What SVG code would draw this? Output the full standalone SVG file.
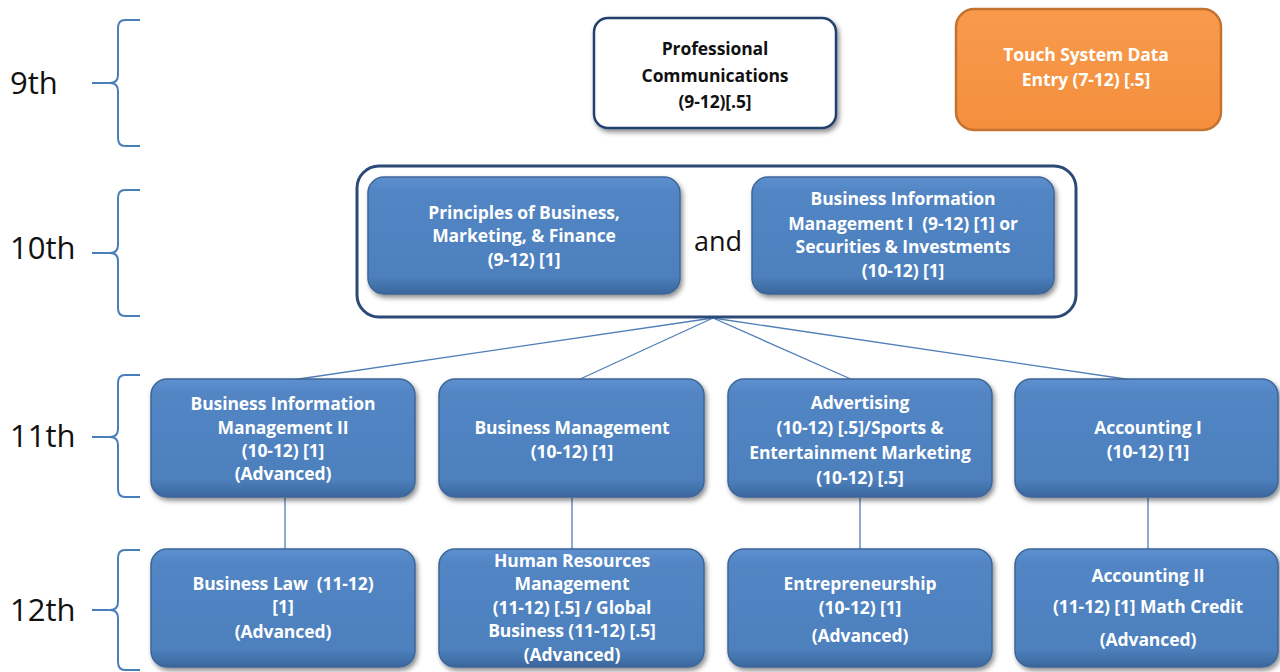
<svg xmlns="http://www.w3.org/2000/svg" width="1280" height="672" viewBox="0 0 1280 672">
<defs>
<linearGradient id="blueG" x1="0" y1="0" x2="0" y2="1">
<stop offset="0" stop-color="#5e90cf"/>
<stop offset="0.12" stop-color="#5285c4"/>
<stop offset="0.85" stop-color="#4d80bd"/>
<stop offset="1" stop-color="#3b669c"/>
</linearGradient>
<linearGradient id="orangeG" x1="0" y1="0" x2="0" y2="1">
<stop offset="0" stop-color="#f89a4c"/>
<stop offset="1" stop-color="#f48f3d"/>
</linearGradient>
<filter id="sh" x="-10%" y="-10%" width="125%" height="130%">
<feDropShadow dx="2" dy="3" stdDeviation="2.5" flood-color="#000" flood-opacity="0.45"/>
</filter>
</defs>
<style>
.blue{fill:url(#blueG);stroke:#3d6698;stroke-width:1.5;filter:url(#sh)}
.t{font-family:"Open Sans",Lato,"Liberation Sans",sans-serif;font-weight:bold;font-size:17.5px;letter-spacing:-0.1px;fill:#fff;text-anchor:middle;white-space:pre}
.k{fill:#111}
.lbl{font-family:"Open Sans","Liberation Sans",sans-serif;font-size:31px;fill:#111}
.brace{fill:none;stroke:#4a7ebb;stroke-width:2}
.conn{stroke:#4f7fb8;stroke-width:1.3;fill:none}
</style>
<rect width="1280" height="672" fill="#fff"/>

<g id="labels">
<text class="lbl" x="10" y="94">9th</text>
<text class="lbl" x="10" y="259">10th</text>
<text class="lbl" x="10" y="447">11th</text>
<text class="lbl" x="10" y="621">12th</text>
</g>

<g id="braces">
<path class="brace" d="M140,20 H125 Q118,20 118,28 V75 Q118,83 110,83 H92 M110,83 Q118,83 118,91 V138 Q118,146 125,146 H140"/>
<path class="brace" d="M140,190 H125 Q118,190 118,198 V245 Q118,253 110,253 H92 M110,253 Q118,253 118,261 V308 Q118,316 125,316 H140"/>
<path class="brace" d="M140,375 H125 Q118,375 118,383 V429 Q118,437 110,437 H92 M110,437 Q118,437 118,445 V489 Q118,497 125,497 H140"/>
<path class="brace" d="M140,550 H125 Q118,550 118,558 V602 Q118,610 110,610 H92 M110,610 Q118,610 118,618 V662 Q118,670 125,670 H140"/>
</g>

<g id="connectors">
<line class="conn" x1="713" y1="318" x2="292" y2="380"/>
<line class="conn" x1="713" y1="318" x2="578" y2="380"/>
<line class="conn" x1="713" y1="318" x2="853" y2="380"/>
<line class="conn" x1="713" y1="318" x2="1132" y2="380"/>
<line class="conn" x1="285" y1="498" x2="285" y2="550"/>
<line class="conn" x1="572" y1="498" x2="572" y2="550"/>
<line class="conn" x1="860" y1="498" x2="860" y2="550"/>
<line class="conn" x1="1148" y1="498" x2="1148" y2="550"/>
</g>

<g id="prof-comm">
<rect x="594" y="18" width="242" height="110" rx="14" fill="#fff" stroke="#24406e" stroke-width="2.5" filter="url(#sh)"/>
<text class="t k" x="715" y="55">Professional</text>
<text class="t k" x="715" y="82">Communications</text>
<text class="t k" x="715" y="108">(9-12)[.5]</text>
</g>

<g id="touch-system">
<rect x="956" y="9" width="265" height="121" rx="18" fill="url(#orangeG)" stroke="#c3732f" stroke-width="2.5"/>
<text class="t" x="1086" y="61">Touch System Data</text>
<text class="t" x="1086" y="86">Entry (7-12) [.5]</text>
</g>

<g id="tenth-group">
<rect x="357" y="166" width="719" height="151" rx="22" fill="#fff" stroke="#2c4a78" stroke-width="3"/>
<text x="718" y="251" font-family="'Open Sans','Liberation Sans',sans-serif" font-size="27" fill="#111" text-anchor="middle">and</text>
</g>

<g id="principles">
<rect class="blue" x="368" y="177" width="312" height="117" rx="16"/>
<text class="t" x="524" y="219">Principles of Business,</text>
<text class="t" x="524" y="242">Marketing, &amp; Finance</text>
<text class="t" x="524" y="266">(9-12) [1]</text>
</g>

<g id="bim1">
<rect class="blue" x="752" y="177" width="302" height="117" rx="16"/>
<text class="t" x="903" y="205">Business Information</text>
<text class="t" x="903" y="230">Management I  (9-12) [1] or</text>
<text class="t" x="903" y="253">Securities &amp; Investments</text>
<text class="t" x="903" y="277">(10-12) [1]</text>
</g>

<g id="bim2">
<rect class="blue" x="151" y="379" width="264" height="118" rx="16"/>
<text class="t" x="283" y="410">Business Information</text>
<text class="t" x="283" y="434">Management II</text>
<text class="t" x="283" y="457">(10-12) [1]</text>
<text class="t" x="283" y="480">(Advanced)</text>
</g>

<g id="bus-mgmt">
<rect class="blue" x="439" y="379" width="265" height="118" rx="16"/>
<text class="t" x="572" y="434">Business Management</text>
<text class="t" x="572" y="458">(10-12) [1]</text>
</g>

<g id="advertising">
<rect class="blue" x="728" y="379" width="264" height="118" rx="16"/>
<text class="t" x="860" y="409">Advertising</text>
<text class="t" x="860" y="434">(10-12) [.5]/Sports &amp;</text>
<text class="t" x="860" y="459">Entertainment Marketing</text>
<text class="t" x="860" y="484">(10-12) [.5]</text>
</g>

<g id="accounting1">
<rect class="blue" x="1015" y="379" width="263" height="118" rx="16"/>
<text class="t" x="1148" y="434">Accounting I</text>
<text class="t" x="1148" y="458">(10-12) [1]</text>
</g>

<g id="bus-law">
<rect class="blue" x="151" y="549" width="264" height="118" rx="16"/>
<text class="t" x="283" y="590">Business Law  (11-12)</text>
<text class="t" x="283" y="613">[1]</text>
<text class="t" x="283" y="638">(Advanced)</text>
</g>

<g id="hr">
<rect class="blue" x="439" y="549" width="265" height="118" rx="16"/>
<text class="t" x="572" y="567">Human Resources</text>
<text class="t" x="572" y="590">Management</text>
<text class="t" x="572" y="614">(11-12) [.5] / Global</text>
<text class="t" x="572" y="637">Business (11-12) [.5]</text>
<text class="t" x="572" y="661">(Advanced)</text>
</g>

<g id="entrepreneurship">
<rect class="blue" x="728" y="549" width="264" height="118" rx="16"/>
<text class="t" x="860" y="590">Entrepreneurship</text>
<text class="t" x="860" y="614">(10-12) [1]</text>
<text class="t" x="860" y="642">(Advanced)</text>
</g>

<g id="accounting2">
<rect class="blue" x="1015" y="549" width="263" height="118" rx="16"/>
<text class="t" x="1148" y="582">Accounting II</text>
<text class="t" x="1148" y="613">(11-12) [1] Math Credit</text>
<text class="t" x="1148" y="646">(Advanced)</text>
</g>
</svg>
